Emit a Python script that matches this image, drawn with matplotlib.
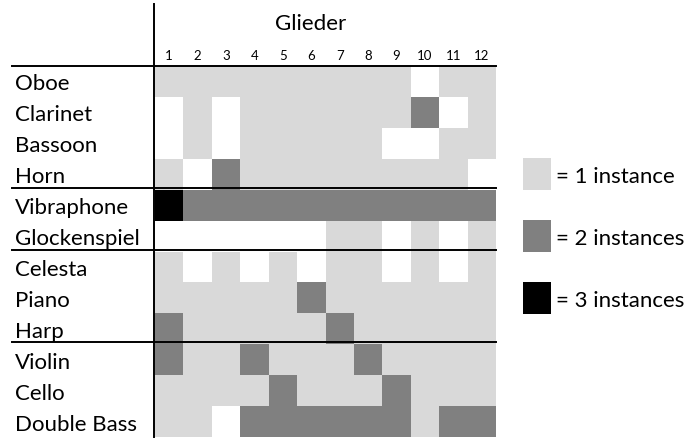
import matplotlib.pyplot as plt
import numpy as np
from matplotlib.colors import ListedColormap
from matplotlib.lines import Line2D
from matplotlib.patches import Rectangle

instruments = ["Oboe", "Clarinet", "Bassoon", "Horn", "Vibraphone", "Glockenspiel",
               "Celesta", "Piano", "Harp", "Violin", "Cello", "Double Bass"]
glieder = [str(i) for i in range(1, 13)]

oboe         = [1, 1, 1, 1, 1, 1, 1, 1, 1, 0, 1, 1]
clarinet     = [0, 1, 0, 1, 1, 1, 1, 1, 1, 2, 0, 1]
bassoon      = [0, 1, 0, 1, 1, 1, 1, 1, 0, 0, 1, 1]
horn         = [1, 0, 2, 1, 1, 1, 1, 1, 1, 1, 1, 0]
vibraphone   = [3, 2, 2, 2, 2, 2, 2, 2, 2, 2, 2, 2]
glockenspiel = [0, 0, 0, 0, 0, 0, 1, 1, 0, 1, 0, 1]
celesta      = [1, 0, 1, 0, 1, 0, 1, 1, 0, 1, 0, 1]
piano        = [1, 1, 1, 1, 1, 2, 1, 1, 1, 1, 1, 1]
harp         = [2, 1, 1, 1, 1, 1, 2, 1, 1, 1, 1, 1]
violin       = [2, 1, 1, 2, 1, 1, 1, 2, 1, 1, 1, 1]
cello        = [1, 1, 1, 1, 2, 1, 1, 1, 2, 1, 1, 1]
double_bass  = [1, 1, 0, 2, 2, 2, 2, 2, 2, 1, 2, 2]

legend_labels = ["= 1 instance", "= 2 instances", "= 3 instances"]
colors = ["white", "#d9d9d9", "#808080", "black"]

grid = np.array([oboe, clarinet, bassoon, horn, vibraphone, glockenspiel,
                 celesta, piano, harp, violin, cello, double_bass])

W, H = 686, 438
plt.rcParams['font.family'] = ['Lato', 'DejaVu Sans']
fig = plt.figure(figsize=(W / 100, H / 100), dpi=100)

def fx(x):
    return x / W

def fy(y):
    return 1 - y / H

# grid area in pixels
gx0, gx1, gy0, gy1 = 155, 496, 66, 437
ax = fig.add_axes([fx(gx0), fy(gy1), fx(gx1 - gx0), (gy1 - gy0) / H])
ax.pcolormesh(grid, cmap=ListedColormap(colors), vmin=-0.5, vmax=3.5)
ax.set_xlim(0, 12)
ax.set_ylim(12, 0)
ax.axis("off")

cw = (gx1 - gx0) / 12
rh = (gy1 - gy0) / 12

for i, lab in enumerate(instruments):
    fig.text(fx(15), fy(gy0 + (i + 0.5) * rh + 9), lab, fontsize=16,
             ha="left", va="baseline")

for j, lab in enumerate(glieder):
    fig.text(fx(gx0 + (j + 0.5) * cw), fy(60), lab, fontsize=9.5,
             ha="center", va="baseline")

fig.text(fx(275), fy(30), "Glieder", fontsize=16, ha="left", va="baseline")

lw = 1.4
fig.add_artist(Line2D([fx(154), fx(154)], [fy(4), fy(437)], color="black", lw=lw))
for yy in [66, 188, 250, 342]:
    fig.add_artist(Line2D([fx(12), fx(496)], [fy(yy), fy(yy)], color="black", lw=lw))

# legend
for k, lab in enumerate(legend_labels):
    y0 = 158 + k * 62
    fig.add_artist(Rectangle((fx(523), fy(y0 + 32)), fx(28), 32 / H,
                             facecolor=colors[k + 1], edgecolor="none",
                             transform=fig.transFigure))
    fig.text(fx(556), fy(y0 + 25), lab, fontsize=16, ha="left", va="baseline")

fig.savefig("out.png", dpi=100)
